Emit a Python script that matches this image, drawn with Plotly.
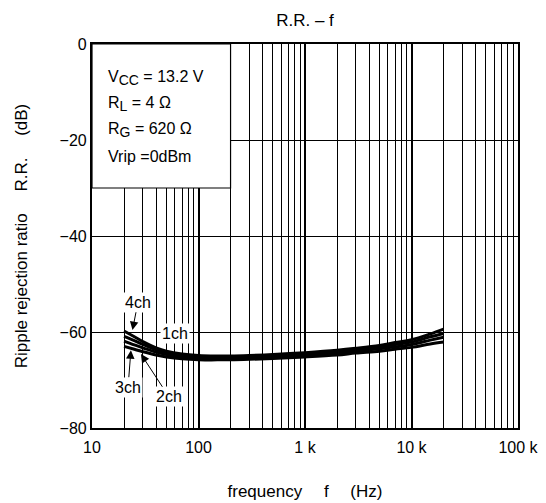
import plotly.graph_objects as go
import math

freq = [20, 25, 30, 40, 50, 70, 100, 150, 200, 300, 500, 1000, 2000, 3000, 5000, 7000, 10000, 15000, 20000]
rr_4ch = [-59.8, -61.0, -62.0, -63.3, -64.0, -64.6, -64.9, -65.0, -65.0, -64.9, -64.7, -64.3, -63.8, -63.4, -62.8, -62.2, -61.6, -60.4, -59.4]
rr_1ch = [-60.9, -61.8, -62.6, -63.7, -64.3, -64.9, -65.2, -65.3, -65.3, -65.2, -65.0, -64.6, -64.1, -63.7, -63.1, -62.6, -62.1, -61.0, -60.3]
rr_2ch = [-61.9, -62.7, -63.3, -64.2, -64.7, -65.2, -65.4, -65.5, -65.5, -65.4, -65.2, -64.9, -64.4, -64.0, -63.5, -63.1, -62.6, -61.7, -61.1]
rr_3ch = [-63.0, -63.6, -64.1, -64.8, -65.2, -65.6, -65.8, -65.8, -65.8, -65.7, -65.5, -65.2, -64.8, -64.4, -64.0, -63.6, -63.2, -62.5, -62.1]

x_tickvals = [10, 100, 1000, 10000, 100000]
x_ticktext = ["10", "100", "1 k", "10 k", "100 k"]
y_tickvals = [0, -20, -40, -60, -80]
y_ticktext = ["0", "\u221220", "\u221240", "\u221260", "\u221280"]

font = "Liberation Sans, Arial, sans-serif"

fig = go.Figure()
for ys in [rr_4ch, rr_1ch, rr_2ch, rr_3ch]:
    fig.add_trace(go.Scatter(x=freq, y=ys, mode="lines",
                             line=dict(color="black", width=3, shape="spline"),
                             showlegend=False, hoverinfo="skip"))

# white condition box in top-left
fig.add_shape(type="rect", xref="x", yref="y", x0=10, x1=200, y0=-30, y1=0,
              fillcolor="white", line=dict(color="black", width=1.2), layer="between")

sub = "<sub><span style='font-size:14px'>{}</span></sub>"
cond = ["V" + sub.format("CC") + " = 13.2 V",
        "R" + sub.format("L") + " = 4 \u03a9",
        "R" + sub.format("G") + " = 620 \u03a9",
        "Vrip =0dBm"]
cond_y = [-7.1, -12.5, -17.9, -23.5]
for t, yv in zip(cond, cond_y):
    fig.add_annotation(x=math.log10(13.5), y=yv, xref="x", yref="y", text=t,
                       showarrow=False, xanchor="left", yanchor="middle",
                       font=dict(family=font, size=16, color="black"))

# channel labels
labels = [
    ("4ch", 24.0, -59.6, 27.0, -53.8, True),
    ("3ch", 23.2, -63.8, 21.8, -71.5, True),
    ("2ch", 28.8, -64.6, 52.8, -73.5, True),
    ("1ch", None, None, 60.0, -60.4, False),
]
for text, hx, hy, lx, ly, arrow in labels:
    if arrow:
        fig.add_annotation(x=math.log10(hx), y=hy, ax=math.log10(lx), ay=ly,
                           xref="x", yref="y", axref="x", ayref="y", text=text,
                           showarrow=True, arrowhead=2, arrowsize=1.7, arrowwidth=1,
                           arrowcolor="black", bgcolor="white", borderpad=1,
                           font=dict(family=font, size=16, color="black"))
    else:
        fig.add_annotation(x=math.log10(lx), y=ly, xref="x", yref="y", text=text,
                           showarrow=False, bgcolor="white", borderpad=1,
                           font=dict(family=font, size=16, color="black"))

W, H = 538, 495
fig.update_layout(
    width=W, height=H,
    margin=dict(l=84, r=28, t=36, b=75, autoexpand=False),
    paper_bgcolor="white", plot_bgcolor="white",
    font=dict(family=font, size=16, color="black"),
    title=dict(text="R.R. \u2013 f", x=0.5, xanchor="center", xref="paper",
               y=1 - 12 / H, yanchor="middle", font=dict(family=font, size=17)),
)
fig.update_xaxes(type="log", range=[1, 5], tickvals=x_tickvals, ticktext=x_ticktext,
                 showgrid=True, gridcolor="black", gridwidth=1.8,
                 minor=dict(showgrid=True, dtick="D1", gridcolor="black", gridwidth=1, ticks=""),
                 showline=True, linecolor="black", linewidth=2.2, mirror=True,
                 ticks="", zeroline=False, automargin=False, tickfont=dict(size=16),
                 ticklabeloverflow="allow", ticklabelstandoff=4,
                 title=dict(text="frequency\u2003 f \u2003(Hz)", standoff=30, font=dict(size=17)))
fig.update_yaxes(range=[-80, 0], tickvals=y_tickvals, ticktext=y_ticktext,
                 showgrid=True, gridcolor="black", gridwidth=1.3, dtick=10,
                 minor=dict(showgrid=False),
                 showline=True, linecolor="black", linewidth=2.2, mirror=True,
                 ticks="", zeroline=False, automargin=False, tickfont=dict(size=16),
                 title=dict(text="Ripple rejection ratio \u2003R.R. \u2003(dB)", standoff=28, font=dict(size=17)))

fig.write_html("out.html")
